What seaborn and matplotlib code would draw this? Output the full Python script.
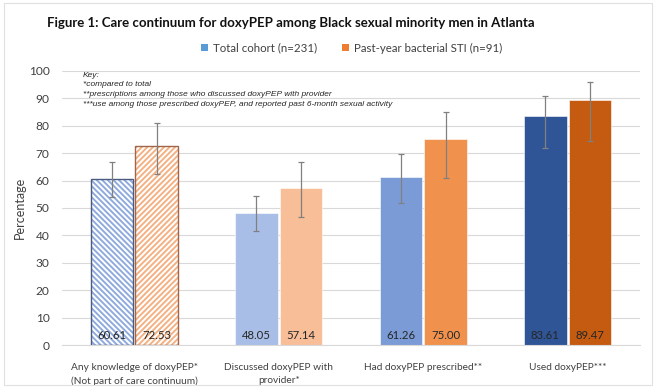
import matplotlib
matplotlib.use("Agg")
import matplotlib.pyplot as plt
from matplotlib.patches import Patch, Rectangle
import seaborn as sns
import pandas as pd

# values
categories = [
    "Any knowledge of doxyPEP*\n(Not part of care continuum)",
    "Discussed doxyPEP with\nprovider*",
    "Had doxyPEP prescribed**",
    "Used doxyPEP***",
]
series = ["Total cohort (n=231)", "Past-year bacterial STI (n=91)"]
total_vals = [60.61, 48.05, 61.26, 83.61]
sti_vals = [72.53, 57.14, 75.00, 89.47]
total_lo = [53.9, 41.6, 51.8, 71.8]
total_hi = [66.7, 54.5, 69.8, 91.0]
sti_lo = [62.3, 46.6, 61.1, 74.5]
sti_hi = [80.9, 66.9, 85.0, 96.1]

blue_cols = ["#8FAADC", "#A9BEE6", "#7B9BD6", "#2F5597"]
orange_cols = ["#F4B183", "#F7BE98", "#F0924E", "#C55A11"]
legend_cols = ["#5B9BD5", "#ED7D31"]

df = pd.DataFrame({
    "category": categories * 2,
    "group": [series[0]] * 4 + [series[1]] * 4,
    "value": total_vals + sti_vals,
})

sns.set_style("white")
plt.rcParams["font.family"] = ["Lato", "DejaVu Sans"]
plt.rcParams["hatch.linewidth"] = 1.4

fig = plt.figure(figsize=(6.57, 3.89), dpi=100)
ax = fig.add_axes([0.0944, 0.1131, 0.8798, 0.7044])

sns.barplot(data=df, x="category", y="value", hue="group", order=categories,
            hue_order=series, width=0.62, gap=0.05, errorbar=None,
            legend=False, ax=ax)

lows = [total_lo, sti_lo]
highs = [total_hi, sti_hi]
vals = [total_vals, sti_vals]
cols = [blue_cols, orange_cols]
outline = ["#4A5B80", "#A0664A"]
hatches = ["\\" * 6, "/" * 6]

bar_conts = list(ax.containers)
for s, cont in enumerate(bar_conts):
    for i, bar in enumerate(cont.patches):
        cx = bar.get_x() + bar.get_width() / 2
        if i == 0:
            # first category is drawn hatched (not part of the continuum)
            bar.set_facecolor("white")
            bar.set_edgecolor(cols[s][i])
            bar.set_hatch(hatches[s])
            bar.set_linewidth(0)
            ax.add_patch(Rectangle((bar.get_x(), 0), bar.get_width(), bar.get_height(),
                                   fill=False, edgecolor=outline[s], lw=1.0, zorder=3))
        else:
            bar.set_facecolor(cols[s][i])
            bar.set_edgecolor("white")
            bar.set_linewidth(0.4)
        v = vals[s][i]
        ax.errorbar(cx, v, yerr=[[v - lows[s][i]], [highs[s][i] - v]], fmt="none",
                    ecolor="#808080", elinewidth=0.9, capsize=2.2, capthick=0.9, zorder=4)
        ax.text(cx, 3.6, f"{v:.2f}", ha="center", va="center", fontsize=8.2,
                color="#262626", zorder=5)

ax.set_xlim(-0.5, 3.5)
ax.set_ylim(0, 100)
ax.set_yticks(range(0, 101, 10))
ax.yaxis.grid(True, color="#D9D9D9", lw=0.8)
ax.set_axisbelow(True)
for sp in ["top", "right", "left"]:
    ax.spines[sp].set_visible(False)
ax.spines["bottom"].set_color("#D9D9D9")
ax.tick_params(axis="x", length=0, labelsize=7.3, colors="#404040", pad=13)
ax.tick_params(axis="y", length=0, labelsize=8.6, colors="#404040", pad=9)
for lab in ax.get_xticklabels():
    lab.set_linespacing(1.55)
ax.set_xlabel("")
ax.set_ylabel("Percentage", fontsize=9, color="#404040", labelpad=2)

fig.text(47 / 657, 1 - 23 / 389,
         "Figure 1: Care continuum for doxyPEP among Black sexual minority men in Atlanta",
         fontsize=9.5, fontweight="bold", va="center", ha="left", color="#111111")

handles = [Patch(facecolor=c, edgecolor="none") for c in legend_cols]
fig.legend(handles, series, loc="center", bbox_to_anchor=(0.535, 1 - 48 / 389), ncol=2,
           frameon=False, fontsize=8.3, handlelength=0.6, handleheight=0.6,
           handletextpad=0.4, columnspacing=2.2, labelcolor="#404040")

key_text = ("Key:\n*compared to total\n**prescriptions among those who discussed doxyPEP with provider\n"
            "***use among those prescribed doxyPEP, and reported past 6-month sexual activity")
fig.text(83 / 657, 1 - 72 / 389, key_text, fontsize=6.0, style="italic", va="top", ha="left",
         family="Liberation Sans", color="#262626", linespacing=1.5)

fig.add_artist(Rectangle((0.006, 0.01), 0.986, 0.982, transform=fig.transFigure,
                         fill=False, edgecolor="#E0E0E0", lw=0.8))

fig.savefig("out.png", dpi=100)
